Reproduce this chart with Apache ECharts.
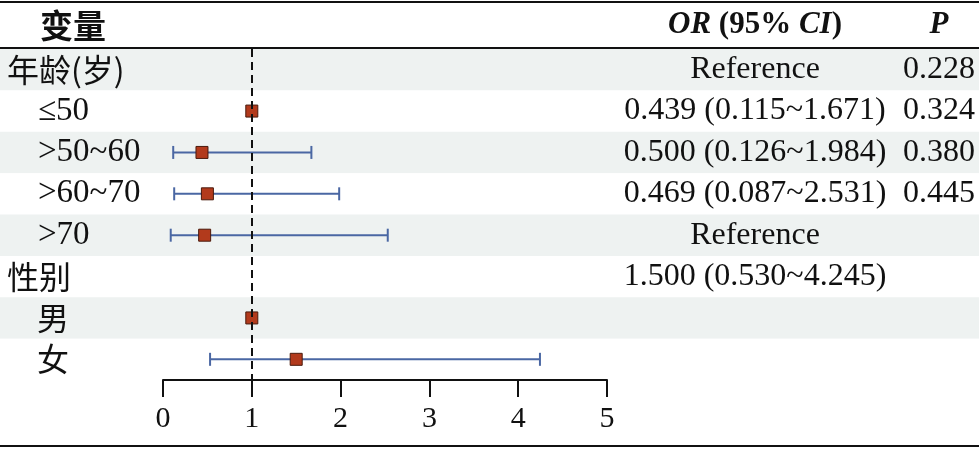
<!DOCTYPE html>
<html><head><meta charset="utf-8">
<script src="https://cdn.jsdelivr.net/npm/echarts@6/dist/echarts.min.js"></script>
<style>html,body{margin:0;padding:0;background:#fff}#c{width:979px;height:449px}</style>
</head><body><div id="c"></div>
<script>
const categories = ['年龄(岁)', '≤50', '>50~60', '>60~70', '>70', '性别', '男', '女'];
const isSub = [false, true, true, true, true, false, true, true];
const orPoint = [null, 1, 0.439, 0.500, 0.469, null, 1, 1.500];
const ciLow = [null, null, 0.115, 0.126, 0.087, null, null, 0.530];
const ciHigh = [null, null, 1.671, 1.984, 2.531, null, null, 4.245];
const orText = ['Reference', '0.439 (0.115~1.671)', '0.500 (0.126~1.984)', '0.469 (0.087~2.531)', 'Reference', '1.500 (0.530~4.245)', '', ''];
const pText = ['0.228', '0.324', '0.380', '0.445', '', '', '', ''];
const xTicks = [0, 1, 2, 3, 4, 5];

const SERIF = '"Liberation Serif","Times New Roman",serif';
const CJK = '"Noto Sans CJK SC",sans-serif';
const hasCJK = s => /[\u4e00-\u9fff]/.test(s);

const chart = echarts.init(document.getElementById('c'), null, {renderer: 'canvas'});

const pointData = [], barData = [];
categories.forEach((c, i) => {
  if (orPoint[i] != null) pointData.push([orPoint[i], i]);
  if (ciLow[i] != null) barData.push([ciLow[i], ciHigh[i], i]);
});

const option = {
  animation: false,
  backgroundColor: '#fff',
  grid: [
    {left: 163, right: 372, top: 49, height: 331},
    {left: 0, right: 0, top: 49, height: 331}
  ],
  xAxis: [
    {gridIndex: 0, type: 'value', min: xTicks[0], max: xTicks[xTicks.length - 1], interval: 1,
     axisLine: {show: true, lineStyle: {color: '#111', width: 2}},
     axisTick: {show: true, length: 17, lineStyle: {color: '#111', width: 2}},
     axisLabel: {margin: 24, fontFamily: SERIF, fontSize: 30, color: '#111'},
     splitLine: {show: false}},
    {gridIndex: 1, type: 'value', show: false, min: 0, max: 1}
  ],
  yAxis: [
    {gridIndex: 0, type: 'category', data: categories, inverse: true, show: false},
    {gridIndex: 1, type: 'category', data: categories, inverse: true,
     axisLine: {show: false}, axisTick: {show: false},
     splitArea: {show: true, areaStyle: {color: ['#eef2f1', '#ffffff']}},
     axisLabel: {align: 'left', margin: -7,
       formatter: (v, i) => {
         const st = hasCJK(v) ? (isSub[i] ? 'cs' : 'c') : (isSub[i] ? 'ls' : 'l');
         return '{' + st + '|' + v + '}';
       },
       rich: {
         c: {fontFamily: CJK, fontSize: 32, color: '#111'},
         cs: {fontFamily: CJK, fontSize: 32, color: '#111', padding: [0, 0, 0, 30]},
         l: {fontFamily: SERIF, fontSize: 32, color: '#111'},
         ls: {fontFamily: SERIF, fontSize: 33, color: '#111', padding: [0, 0, 0, 31]}
       }}},
    {gridIndex: 1, type: 'category', data: orText, inverse: true, position: 'left', offset: -755,
     axisLine: {show: false}, axisTick: {show: false},
     axisLabel: {align: 'center', margin: 0, fontFamily: SERIF, fontSize: 32, color: '#111', interval: 0}},
    {gridIndex: 1, type: 'category', data: pText, inverse: true, position: 'left', offset: -975,
     axisLine: {show: false}, axisTick: {show: false},
     axisLabel: {align: 'right', margin: 0, fontFamily: SERIF, fontSize: 32, color: '#111', interval: 0}}
  ],
  series: [
    {type: 'custom', xAxisIndex: 0, yAxisIndex: 0, z: 2, data: barData,
     renderItem: (params, api) => {
       const a = api.coord([api.value(0), api.value(2)]);
       const b = api.coord([api.value(1), api.value(2)]);
       const h = 6.5;
       const st = {stroke: '#4a67a3', lineWidth: 2};
       return {type: 'group', children: [
         {type: 'line', shape: {x1: a[0], y1: a[1], x2: b[0], y2: b[1]}, style: st},
         {type: 'line', shape: {x1: a[0], y1: a[1] - h, x2: a[0], y2: a[1] + h}, style: st},
         {type: 'line', shape: {x1: b[0], y1: b[1] - h, x2: b[0], y2: b[1] + h}, style: st}
       ]};
     }},
    {type: 'line', xAxisIndex: 0, yAxisIndex: 0, data: [], z: 3,
     markLine: {silent: true, symbol: 'none', label: {show: false},
       lineStyle: {color: '#111', width: 2, type: [8, 5]},
       data: [{xAxis: 1}]}},
    {type: 'scatter', xAxisIndex: 0, yAxisIndex: 0, z: 4, data: pointData,
     symbol: 'rect', symbolSize: 12,
     itemStyle: {color: '#b23a1c', borderColor: '#4a1a0c', borderWidth: 1, opacity: 1}}
  ],
  graphic: [
    {type: 'rect', shape: {x: 0, y: 1, width: 979, height: 2}, style: {fill: '#111'}, z: 10},
    {type: 'rect', shape: {x: 0, y: 47, width: 979, height: 2}, style: {fill: '#111'}, z: 10},
    {type: 'rect', shape: {x: 0, y: 445, width: 979, height: 2}, style: {fill: '#111'}, z: 10},
    {type: 'text', x: 40, y: 25, z: 10, style: {text: '变量', fontFamily: CJK, fontSize: 33, fontWeight: 'bold', fill: '#111', align: 'left', verticalAlign: 'middle'}},
    {type: 'text', x: 755, y: 25, z: 10, style: {text: '{bi|OR}{b| (95% }{bi|CI}{b|)}', align: 'center', verticalAlign: 'middle',
      rich: {bi: {fontFamily: SERIF, fontSize: 31, fontWeight: 'bold', fontStyle: 'italic', fill: '#111'},
             b: {fontFamily: SERIF, fontSize: 31, fontWeight: 'bold', fill: '#111'}}}},
    {type: 'text', x: 939, y: 25, z: 10, style: {text: 'P', fontFamily: SERIF, fontSize: 31, fontWeight: 'bold', fontStyle: 'italic', fill: '#111', align: 'center', verticalAlign: 'middle'}}
  ]
};
chart.setOption(option);
</script></body></html>
